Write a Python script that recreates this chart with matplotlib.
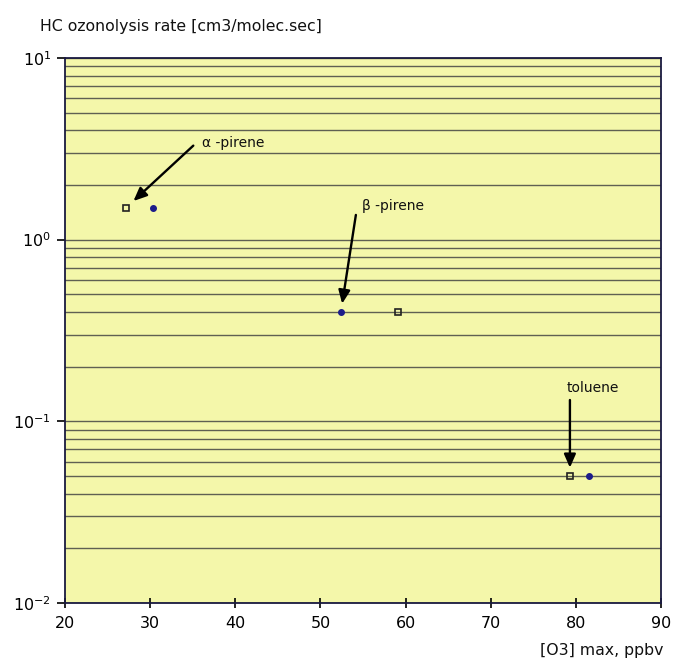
import matplotlib
matplotlib.use("Agg")
import matplotlib.pyplot as plt
from matplotlib.ticker import LogLocator, NullFormatter

# Hydrocarbon ozonolysis rate vs. peak ozone
compounds = ["α -pirene", "β -pirene", "toluene"]
rate = [1.5, 0.4, 0.05]                 # cm3/molec.sec
o3_square = [27.2, 59.1, 79.3]          # ppbv, open-square series
o3_dot = [30.3, 52.4, 81.5]             # ppbv, dot series
xticks = [20, 30, 40, 50, 60, 70, 80, 90]

plt.rcParams["font.family"] = ["DejaVu Sans"]

fig = plt.figure(figsize=(6.75, 6.66), dpi=100)
ax = fig.add_axes([0.0963, 0.0946, 0.883, 0.8184])
ax.set_facecolor("#f4f7aa")

ax.set_yscale("log")
ax.set_xlim(20, 90)
ax.set_ylim(1e-2, 1e1)
ax.set_xticks(xticks)

ax.yaxis.set_major_locator(LogLocator(base=10, numticks=10))
ax.yaxis.set_minor_locator(LogLocator(base=10, subs=range(2, 10), numticks=20))
ax.yaxis.set_minor_formatter(NullFormatter())

ax.grid(True, which="both", axis="y", color="#5f6052", lw=1.0)
ax.set_axisbelow(True)

for side in ["left", "bottom", "right", "top"]:
    ax.spines[side].set_color("#1a1a40")
    ax.spines[side].set_linewidth(1.3)

ax.tick_params(axis="y", which="major", direction="out", length=6,
               width=1.2, labelsize=11.5, pad=4)
ax.tick_params(axis="y", which="minor", length=0)
ax.tick_params(axis="x", direction="inout", length=7, width=1.2,
               labelsize=11.5, pad=6)

ax.plot(o3_square, rate, ls="none", marker="s", ms=5, mfc="none",
        mec="#222222", mew=1.2, zorder=3)
ax.plot(o3_dot, rate, ls="none", marker="o", ms=4, mfc="#1c1c8a",
        mec="#1c1c8a", zorder=3)

# Labels with arrows pointing at the marked points
targets = [(o3_square[0], rate[0]), (o3_dot[1], rate[1]), (o3_square[2], rate[2])]
tails = [(67, 62), (15, 97), (0, 76)]
text_pos = [(76, 65), (21, 106), (-3, 88)]
shrink = [7, 6, 6]
for name, (tx, ty), tail, tp, sh in zip(compounds, targets, tails, text_pos, shrink):
    ax.annotate("", xy=(tx, ty), xytext=tail, textcoords="offset pixels",
                arrowprops=dict(arrowstyle="-|>,head_length=0.8,head_width=0.35",
                                color="black", lw=1.7, shrinkA=0, shrinkB=sh),
                zorder=4)
    ax.annotate(name, xy=(tx, ty), xytext=tp, textcoords="offset pixels",
                ha="left", va="center", fontsize=10, color="#111111")

fig.text(40 / 675, 1 - 26 / 666, "HC ozonolysis rate [cm3/molec.sec]",
         fontsize=11.3, ha="left", va="center", color="#111111")
fig.text(663 / 675, 1 - 650 / 666, "[O3] max, ppbv",
         fontsize=11.3, ha="right", va="center", color="#111111")

fig.savefig("out.png", dpi=100, facecolor="white")
